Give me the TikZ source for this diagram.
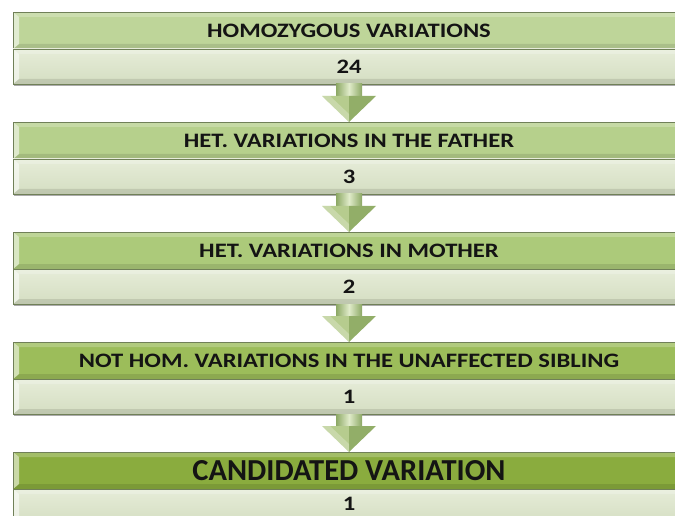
\documentclass[tikz,border=0pt]{standalone}
\usepackage{fontspec}
\setmainfont{Carlito}
\newfontfamily\widefont[FakeStretch=1.2]{Carlito}
\usetikzlibrary{calc,shadows}

\definecolor{edgecol}{RGB}{112,128,88}
\definecolor{hdrA}{RGB}{190,213,153}
\definecolor{hdrB}{RGB}{182,208,140}
\definecolor{hdrC}{RGB}{172,202,122}
\definecolor{hdrD}{RGB}{156,189,90}
\definecolor{hdrE}{RGB}{138,172,62}
\definecolor{subtop}{RGB}{230,236,216}
\definecolor{subbot}{RGB}{212,222,194}
\definecolor{txt}{RGB}{20,20,20}
\definecolor{shaftdark}{RGB}{140,168,100}
\definecolor{shaftlight}{RGB}{224,235,202}
\definecolor{headlight}{RGB}{182,204,142}
\definecolor{headdark}{RGB}{146,174,104}

\tikzset{
  bevel/.style={path picture={
    \path (path picture bounding box.south west) coordinate (bsw)
          (path picture bounding box.north east) coordinate (bne);
    % top face
    \fill[white,opacity=0.22] (bsw|-bne) -- (bne) -- ++(-6pt,-5pt)
          -- ($(bsw|-bne)+(6pt,-5pt)$) -- cycle;
    % bottom face
    \fill[black,opacity=0.10] (bsw) -- (bne|-bsw) -- ++(-6pt,5pt)
          -- ($(bsw)+(6pt,5pt)$) -- cycle;
    % left face
    \fill[white,opacity=0.55] (bsw) -- (bsw|-bne) -- ++(6pt,-5pt)
          -- ($(bsw)+(6pt,5pt)$) -- cycle;
  }},
  boxtext/.style={text=txt, font=\widefont\bfseries\fontsize{20.5}{24}\selectfont},
  hdrbox/.style={rectangle, draw=edgecol, line width=0.9pt, fill=#1,
    minimum width=672pt, minimum height=37pt, inner sep=0pt, outer sep=0pt,
    boxtext, bevel},
  subbox/.style={rectangle, draw=edgecol, line width=0.9pt,
    top color=subtop, bottom color=subbot,
    minimum width=672pt, minimum height=35pt, inner sep=0pt, outer sep=0pt,
    boxtext, bevel,
    drop shadow={shadow xshift=0.5pt, shadow yshift=-2pt, fill=black!55, opacity=0.6}},
}

\begin{document}
\begin{tikzpicture}[x=1pt,y=1pt]
\useasboundingbox (0,0) rectangle (675,515);
\clip (0,0) rectangle (675,515);

% stage boxes: title row and count row
\node[hdrbox=hdrA] (h1) at (349,484.5) {HOMOZYGOUS VARIATIONS};
\node[subbox]      (s1) at (349,448.5) {24};
\node[hdrbox=hdrB] (h2) at (349,374.5) {HET. VARIATIONS IN THE FATHER};
\node[subbox]      (s2) at (349,338.5) {3};
\node[hdrbox=hdrC] (h3) at (349,264.5) {HET. VARIATIONS IN MOTHER};
\node[subbox]      (s3) at (349,228.5) {2};
\node[hdrbox=hdrD] (h4) at (349,154.5) {NOT HOM. VARIATIONS IN THE UNAFFECTED SIBLING};
\node[subbox]      (s4) at (349,118.5) {1};
\node[hdrbox=hdrE, font=\bfseries\fontsize{30.5}{34}\selectfont] (h5) at (349,44.5) {CANDIDATED VARIATION};
\node[subbox]      (s5) at (349,8.5) {};
\node[boxtext, inner sep=1pt] (n5) at (349,11.5) {1};

% block arrows between stages
\foreach \i in {1,...,4}{
  \pgfmathtruncatemacro\j{\i+1}
  \coordinate (base) at ($(h\j.north)+(0,26)$);
  % shaft
  \shade[left color=shaftdark, right color=shaftdark, middle color=shaftlight]
    ($(s\i.south)+(-13,0)$) rectangle ($(base)+(13,0)$);
  % head, lit left half and shaded right half
  \fill[headlight] ($(base)+(-27,0)$) -- (base) -- (h\j.north) -- cycle;
  \fill[headdark]  ($(base)+(27,0)$) -- (base) -- (h\j.north) -- cycle;
  \fill[white,opacity=0.25] ($(base)+(-27,0)$) -- ($(base)+(-19,0)$)
     -- ($(h\j.north)+(0,8)$) -- (h\j.north) -- cycle;
}
\end{tikzpicture}
\end{document}
